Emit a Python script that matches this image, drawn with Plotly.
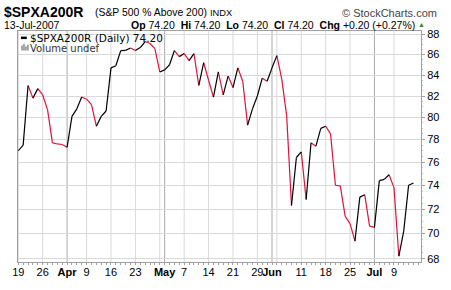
import plotly.graph_objects as go
import pandas as pd
import math

symbol = "$SPXA200R"
description = "(S&P 500 % Above 200)"
exchange = "INDX"
holidays = ["2007-04-06", "2007-05-28", "2007-07-04"]
dates = [d for d in pd.bdate_range("2007-03-19", "2007-07-13")
         if d.strftime("%Y-%m-%d") not in holidays]

values = [77.0, 77.5, 83.0, 81.8, 82.7, 82.1, 80.7, 77.7, 77.6, 77.55,
          77.3, 80.1, 80.8, 81.9, 81.7, 81.2, 79.2, 80.1, 80.6, 84.7,
          84.9, 86.4, 86.42, 86.65, 86.4, 86.7, 87.3, 87.1, 86.6, 84.3,
          84.5, 85.0, 86.4, 85.8, 86.1, 85.4, 86.1, 83.0, 85.2, 83.5,
          81.9, 84.3, 82.1, 83.9, 82.8, 84.7, 83.4, 79.3, 80.8, 82.0,
          83.7, 83.4, 84.7, 85.9, 83.6, 80.2, 72.3, 76.4, 76.9, 72.8,
          77.7, 77.4, 79.0, 79.2, 78.5, 74.0, 73.95, 71.4, 70.8, 69.4,
          73.0, 73.2, 70.6, 70.5, 74.4, 74.5, 74.9, 73.8, 68.2, 70.2,
          74.0, 74.2]

y_ticks = [68, 70, 72, 74, 76, 78, 80, 82, 84, 86, 88]

UP = "#000000"
DOWN = "#dc143c"

W, H = 451, 290
L, R, T, B = 18, 20, 31, 22
PW, PH = W - L - R, H - T - B


def px(x):
    return (x - L) / PW


def py(y):
    return (H - B - y) / PH


x_idx = list(range(len(dates)))

# up / down segments
ux, uy, dx, dy = [], [], [], []
for i in range(len(values) - 1):
    if values[i + 1] >= values[i]:
        ux += [x_idx[i], x_idx[i + 1], None]
        uy += [values[i], values[i + 1], None]
    else:
        dx += [x_idx[i], x_idx[i + 1], None]
        dy += [values[i], values[i + 1], None]

fig = go.Figure()
fig.add_trace(go.Scatter(x=dx, y=dy, mode="lines", line=dict(color=DOWN, width=1.2),
                         showlegend=False, hoverinfo="skip"))
fig.add_trace(go.Scatter(x=ux, y=uy, mode="lines", line=dict(color=UP, width=1.2),
                         showlegend=False, hoverinfo="skip"))

# x tick labels / gridlines
tickvals, ticktext = [], []
grid_x, month_x = [], []
prev = None
for i, d in enumerate(dates):
    new_month = prev is not None and d.month != prev.month
    new_week = prev is None or d.weekday() < prev.weekday() or (d - prev).days > 3
    if new_month:
        month_x.append(i)
    if new_week:
        grid_x.append(i)
    prev = d

month_set = set(month_x)
for i in sorted(set(grid_x) | month_set):
    d = dates[i]
    if i in month_set:
        tickvals.append(i)
        ticktext.append("<b>" + d.strftime("%b") + "</b>")
    else:
        if any(0 < abs(i - m) <= 1 for m in month_set):
            continue
        tickvals.append(i)
        ticktext.append(str(d.day))

shapes = []
for i in grid_x:
    if i in month_set:
        continue
    shapes.append(dict(type="line", xref="x", yref="paper", x0=i, x1=i, y0=0, y1=1,
                       line=dict(color="#d9d9d9", width=1), layer="below"))
for i in month_x:
    shapes.append(dict(type="line", xref="x", yref="paper", x0=i, x1=i, y0=0, y1=1,
                       line=dict(color="#a9a9a9", width=1), layer="below"))

# legend line icon
shapes.append(dict(type="line", xref="paper", yref="paper", x0=px(21), x1=px(27),
                   y0=py(38), y1=py(38), line=dict(color="black", width=2.5)))
# volume icon bars
for bx, bh in [(21.5, 5), (23.5, 7), (25.5, 4), (27.5, 6)]:
    shapes.append(dict(type="rect", xref="paper", yref="paper", x0=px(bx), x1=px(bx + 1.3),
                       y0=py(51), y1=py(51 - bh), line=dict(width=0),
                       fillcolor="#777777"))

last = values[-1]
chg = values[-1] - values[-2]
pct = chg / values[-2] * 100

ann = []
FONT = "Liberation Sans, Arial, sans-serif"
ann.append(dict(x=px(3), y=py(12), text="<b>" + symbol + "</b>", font=dict(size=14, family=FONT, color="black")))
ann.append(dict(x=px(96), y=py(12.5), text=description, font=dict(size=10.4, family=FONT, color="black")))
ann.append(dict(x=px(214), y=py(12.5), text=exchange, font=dict(size=9.3, family=FONT, color="black")))
ann.append(dict(x=px(448), y=py(12.5), text="© StockCharts.com", xanchor="right",
                font=dict(size=11, family=FONT, color="#444444")))
ann.append(dict(x=px(3), y=py(25), text=dates[-1].strftime("%d-%b-%Y"), font=dict(size=10.5, family=FONT, color="black")))
hdr = ("<b>Op</b> %.2f  <b>Hi</b> %.2f  <b>Lo</b> %.2f  <b>Cl</b> %.2f  <b>Chg</b> %+.2f (%+.2f%%)"
       % (last, last, last, last, chg, pct))
ann.append(dict(x=px(426), y=py(25), text=hdr, xanchor="right", font=dict(size=10.5, family=FONT, color="black")))
ann.append(dict(x=px(432), y=py(24.5), text="▲", xanchor="center", font=dict(size=7, family=FONT, color="#2e8b2e")))
LF = "DejaVu Sans, Verdana, sans-serif"
ann.append(dict(x=px(29), y=py(38.5), text="%s (Daily) %.2f" % (symbol, last),
                font=dict(size=10.5, family=LF, color="black")))
ann.append(dict(x=px(29), y=py(48.5), text="Volume undef", font=dict(size=10, family=LF, color="#333333")))
for a in ann:
    a.update(xref="paper", yref="paper", showarrow=False, yanchor="middle", borderpad=0)
    a.setdefault("xanchor", "left")

ylo = 10 ** (math.log10(68) - (268 - 264.7) / 2054)
yhi = 10 ** (math.log10(88) + (34.7 - 31) / 2054)

minor_y = [v / 2 for v in range(136, 177)]

fig.update_layout(
    width=W, height=H,
    margin=dict(l=L, r=R, t=T, b=B),
    paper_bgcolor="white", plot_bgcolor="white",
    shapes=shapes, annotations=ann,
    xaxis=dict(range=[-0.06, (W - L - R) / 5 - 0.06], tickmode="array",
               tickvals=tickvals, ticktext=ticktext, tickangle=0, showgrid=False, zeroline=False,
               showline=True, linecolor="#a0a0a0", mirror=True, ticks="",
               tickfont=dict(size=11, family=FONT, color="black"),
               minor=dict(ticks="outside", ticklen=2, tickcolor="#a0a0a0", dtick=1, tick0=0)),
    yaxis=dict(type="log", range=[math.log10(ylo), math.log10(yhi)], side="right",
               tickmode="array", tickvals=y_ticks, ticktext=[str(v) for v in y_ticks],
               showgrid=True, gridcolor="#d9d9d9", gridwidth=1, zeroline=False,
               showline=True, linecolor="#a0a0a0", mirror=True,
               ticks="outside", ticklen=3, tickcolor="#a0a0a0",
               tickfont=dict(size=11, family=FONT, color="black"),
               minor=dict(tickmode="array", tickvals=minor_y, ticks="outside", ticklen=1,
                          tickcolor="#c0c0c0", showgrid=False)),
)

fig.write_html("out.html")
